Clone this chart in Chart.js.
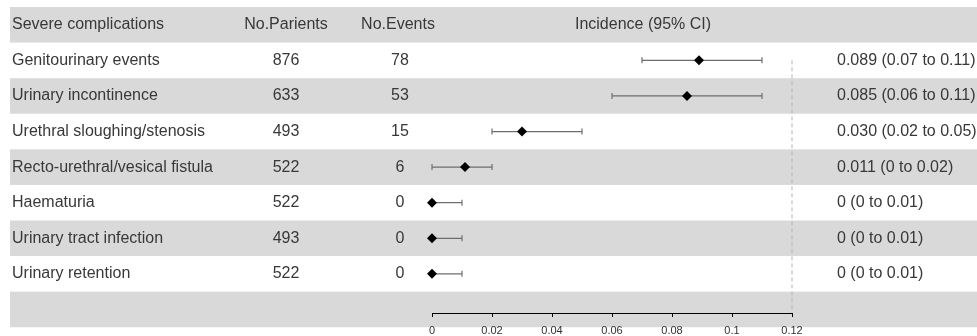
<!DOCTYPE html>
<html>
<head>
<meta charset="utf-8">
<script src="https://cdn.jsdelivr.net/npm/chart.js@4/dist/chart.umd.min.js"></script>
<style>
  html, body { margin: 0; padding: 0; background: #fff; }
  canvas { display: block; }
</style>
</head>
<body>
<canvas id="forest" width="977" height="336"></canvas>
<script>
/* ---- Data ---- */
const headers = ["Severe complications", "No.Parients", "No.Events", "Incidence (95% CI)"];
const outcomes = [
  "Genitourinary events",
  "Urinary incontinence",
  "Urethral sloughing/stenosis",
  "Recto-urethral/vesical fistula",
  "Haematuria",
  "Urinary tract infection",
  "Urinary retention",
];
const patients = [876, 633, 493, 522, 522, 493, 522];
const events = [78, 53, 15, 6, 0, 0, 0];
const estimate = [0.089, 0.085, 0.030, 0.011, 0, 0, 0];
const lower = [0.07, 0.06, 0.02, 0, 0, 0, 0];
const upper = [0.11, 0.11, 0.05, 0.02, 0.01, 0.01, 0.01];
const ciLabels = [
  "0.089 (0.07 to 0.11)",
  "0.085 (0.06 to 0.11)",
  "0.030 (0.02 to 0.05)",
  "0.011 (0 to 0.02)",
  "0 (0 to 0.01)",
  "0 (0 to 0.01)",
  "0 (0 to 0.01)",
];
const xTicks = [0, 0.02, 0.04, 0.06, 0.08, 0.1, 0.12];
const refValue = 0.12;

/* ---- Layout ---- */
const ROWS = outcomes.length + 2; // header + data + empty bottom band
const Y_MAX = 8.1;
const FONT = '16px "Liberation Sans", Arial, sans-serif';
const TEXT = "#383838";
const BAND = "#d9d9d9";

// CI segments, broken by null points between rows
const ciData = [];
outcomes.forEach((_, i) => {
  ciData.push({ x: lower[i], y: i + 1 }, { x: upper[i], y: i + 1 }, { x: null, y: null });
});

const tablePlugin = {
  id: "table",
  beforeDraw(chart) {
    const { ctx, scales: { y } } = chart;
    ctx.save();
    ctx.fillStyle = BAND;
    for (let r = 0; r < ROWS; r += 2) {
      const top = y.getPixelForValue(r - 0.5);
      const bot = y.getPixelForValue(r + 0.5);
      ctx.fillRect(10, top, chart.width - 10, bot - top);
    }
    ctx.restore();
  },
  afterDraw(chart) {
    const { ctx, scales: { y } } = chart;
    ctx.save();
    ctx.font = FONT;
    ctx.fillStyle = TEXT;
    ctx.textBaseline = "middle";

    const hy = y.getPixelForValue(0);
    ctx.textAlign = "left";
    ctx.fillText(headers[0], 12, hy);
    ctx.textAlign = "center";
    ctx.fillText(headers[1], 286, hy);
    ctx.fillText(headers[2], 398, hy);
    ctx.fillText(headers[3], 643, hy);

    outcomes.forEach((name, i) => {
      const py = y.getPixelForValue(i + 1);
      ctx.textAlign = "left";
      ctx.fillText(name, 12, py);
      ctx.fillText(ciLabels[i], 837, py);
      ctx.textAlign = "center";
      ctx.fillText(String(patients[i]), 286, py);
      ctx.fillText(String(events[i]), 400, py);
    });
    ctx.restore();
  },
};

new Chart(document.getElementById("forest"), {
  type: "scatter",
  data: {
    datasets: [
      {
        label: "Incidence",
        data: estimate.map((v, i) => ({ x: v, y: i + 1 })),
        pointStyle: "rectRot",
        pointRadius: 5,
        pointBackgroundColor: "#000",
        pointBorderWidth: 0,
        clip: false,
        order: 0,
      },
      {
        label: "95% CI",
        data: ciData,
        showLine: true,
        spanGaps: false,
        borderColor: "#6e6e6e",
        borderWidth: 1.2,
        pointStyle: "line",
        rotation: 90,
        pointRadius: 3,
        pointBorderColor: "#6e6e6e",
        pointBorderWidth: 1.2,
        clip: false,
        order: 1,
      },
      {
        label: "Reference",
        data: [{ x: refValue, y: 1 }, { x: refValue, y: Y_MAX }],
        showLine: true,
        borderColor: "#b3b3b3",
        borderWidth: 1,
        borderDash: [4, 3],
        pointRadius: 0,
        clip: false,
        order: 2,
      },
    ],
  },
  options: {
    responsive: false,
    animation: false,
    events: [],
    layout: { padding: { left: 432, right: 185, top: 7, bottom: 0 } },
    plugins: { legend: { display: false }, tooltip: { enabled: false } },
    scales: {
      x: {
        type: "linear",
        min: 0,
        max: 0.12,
        afterBuildTicks: (s) => { s.ticks = xTicks.map((v) => ({ value: v })); },
        afterFit: (s) => { s.height = 23; },
        grid: { drawOnChartArea: false, drawTicks: true, tickLength: 4, color: "#000", lineWidth: 1 },
        border: { display: true, color: "#000", width: 1 },
        ticks: {
          font: { family: '"Liberation Sans", Arial, sans-serif', size: 11 },
          color: "#333",
          padding: 7,
          maxRotation: 0,
          autoSkip: false,
          callback: (v) => String(v),
        },
      },
      y: { type: "linear", min: -0.5, max: Y_MAX, reverse: true, display: false },
    },
  },
  plugins: [tablePlugin],
});
</script>
</body>
</html>
